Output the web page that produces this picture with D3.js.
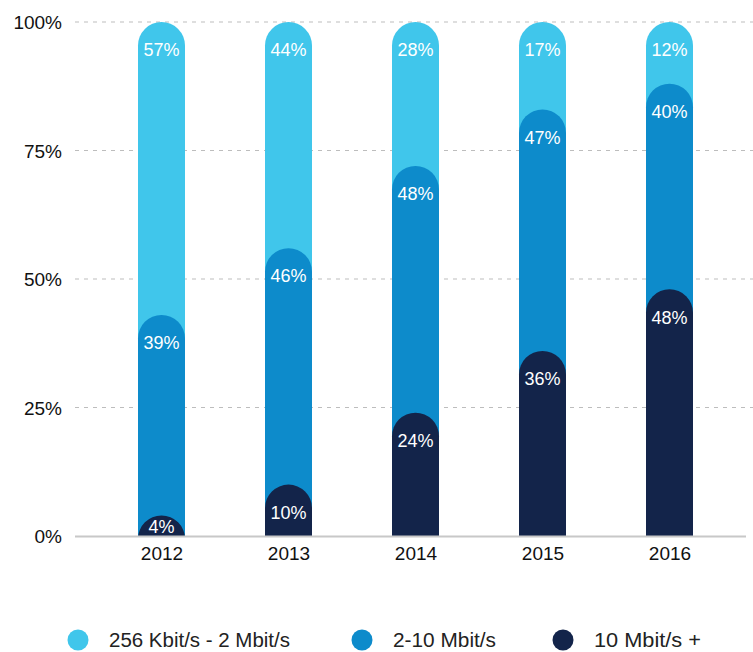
<!DOCTYPE html>
<html><head><meta charset="utf-8">
<script src="https://cdn.jsdelivr.net/npm/d3@7"></script>
<style>
html,body{margin:0;padding:0;background:#fff;}
svg{display:block;}
</style></head>
<body>
<script>
const years = ["2012","2013","2014","2015","2016"];
const seriesNames = ["256 Kbit/s - 2 Mbit/s","2-10 Mbit/s","10 Mbit/s +"];
const low = [57,44,28,17,12];
const mid = [39,46,48,47,40];
const high = [4,10,24,36,48];
const yTicks = [0,25,50,75,100];
const colors = ["#40c6eb","#0d8bcb","#13244a"];

const W=753,H=652;
const svg=d3.select("body").append("svg").attr("width",W).attr("height",H);
const font="'Liberation Sans', Arial, sans-serif";

const y=d3.scaleLinear().domain([0,100]).range([536,22]);
const x=d3.scalePoint().domain(years).range([98,733]).padding(0.5);
const bw=47, r=bw/2;

// grid
const grid=svg.append("g");
yTicks.filter(t=>t>0).forEach(t=>{
  grid.append("line").attr("x1",75).attr("x2",753).attr("y1",y(t)).attr("y2",y(t))
   .attr("stroke","#bdbdbd").attr("stroke-width",1).attr("stroke-dasharray","4,5");
});
const yAxis=d3.axisLeft(y).tickValues(yTicks).tickFormat(d=>d+"%").tickSize(0).tickPadding(0);
const ya=svg.append("g").attr("transform","translate(62,0)").call(yAxis);
ya.select(".domain").remove();
ya.selectAll("text").attr("font-family",font).attr("font-size",19).attr("fill","#111").attr("dy","0.35em");

// stacked cumulative tops
const stacks = years.map((yr,i)=>{
  const d=high[i], m=mid[i], l=low[i];
  return [
    {key:0,val:l,top:d+m+l},
    {key:1,val:m,top:d+m},
    {key:2,val:d,top:d}
  ];
});

svg.append("defs").append("clipPath").attr("id","plot")
  .append("rect").attr("x",0).attr("y",0).attr("width",W).attr("height",536);

const bars=svg.append("g").attr("clip-path","url(#plot)");
function capPath(cx,top,bottom){
  const x0=cx-r,x1=cx+r;
  return `M${x0},${bottom}L${x0},${top+r}A${r},${r} 0 0 1 ${x1},${top+r}L${x1},${bottom}Z`;
}
years.forEach((yr,i)=>{
  const cx=x(yr);
  stacks[i].forEach(s=>{
    bars.append("path").attr("d",capPath(cx,y(s.top),y(0)+2)).attr("fill",colors[s.key]);
  });
  stacks[i].forEach(s=>{
    const ty=Math.min(y(s.top)+28, 527);
    bars.append("text").attr("x",cx).attr("y",ty).attr("dy","0.35em").attr("text-anchor","middle")
      .attr("font-family",font).attr("font-size",18).attr("fill","#fff").text(s.val+"%");
  });
});

// baseline
svg.append("line").attr("x1",75).attr("x2",746).attr("y1",536.5).attr("y2",536.5)
  .attr("stroke","#c8c8c8").attr("stroke-width",2);

const xAxis=d3.axisBottom(x).tickSize(0).tickPadding(0);
const xa=svg.append("g").attr("transform","translate(0,553)").call(xAxis);
xa.select(".domain").remove();
xa.selectAll("text").attr("font-family",font).attr("font-size",19).attr("fill","#111").attr("dy","0.35em");

// legend
const legX=[78,362,563];
const legW=[181,103,107];
const lg=svg.append("g");
seriesNames.forEach((n,i)=>{
  lg.append("circle").attr("cx",legX[i]).attr("cy",640).attr("r",10.5).attr("fill",colors[i]);
  lg.append("text").attr("x",legX[i]+31).attr("y",640).attr("dy","0.35em")
    .attr("font-family",font).attr("font-size",20).attr("fill","#222")
    .attr("textLength",legW[i]).attr("lengthAdjust","spacingAndGlyphs").text(n);
});
</script>
</body></html>
